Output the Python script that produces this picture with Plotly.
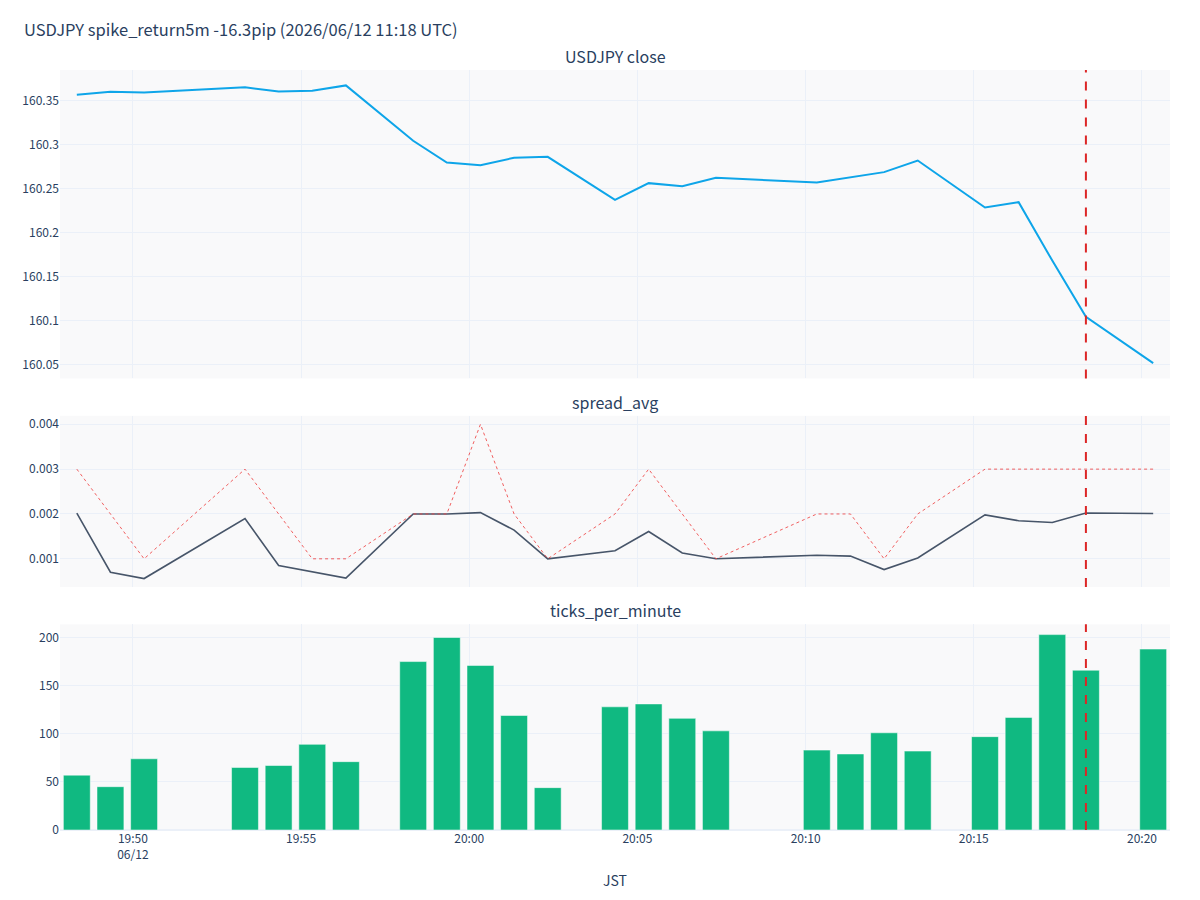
import plotly.graph_objects as go
from plotly.subplots import make_subplots

times = [
    "2026-06-12 19:48:20", "2026-06-12 19:49:20", "2026-06-12 19:50:20",
    "2026-06-12 19:53:20", "2026-06-12 19:54:20", "2026-06-12 19:55:20",
    "2026-06-12 19:56:20", "2026-06-12 19:58:20", "2026-06-12 19:59:20",
    "2026-06-12 20:00:20", "2026-06-12 20:01:20", "2026-06-12 20:02:20",
    "2026-06-12 20:04:20", "2026-06-12 20:05:20", "2026-06-12 20:06:20",
    "2026-06-12 20:07:20", "2026-06-12 20:10:20", "2026-06-12 20:11:20",
    "2026-06-12 20:12:20", "2026-06-12 20:13:20", "2026-06-12 20:15:20",
    "2026-06-12 20:16:20", "2026-06-12 20:17:20", "2026-06-12 20:18:20",
    "2026-06-12 20:20:20",
]

close = [
    160.3564, 160.3598, 160.3591, 160.3648, 160.3602, 160.3610, 160.3670,
    160.3042, 160.2795, 160.2765, 160.2849, 160.2860, 160.2371, 160.2561,
    160.2527, 160.2621, 160.2568, 160.2626, 160.2686, 160.2818, 160.2284,
    160.2345, 160.1682, 160.1045, 160.0519,
]

spread_avg = [
    0.00202, 0.00070, 0.00056, 0.00190, 0.00085, 0.00071, 0.00057,
    0.00200, 0.00200, 0.00203, 0.00164, 0.00100, 0.00118, 0.00161,
    0.00113, 0.00100, 0.00108, 0.00106, 0.00076, 0.00102, 0.00198,
    0.00185, 0.00181, 0.00202, 0.00201,
]

spread_max = [
    0.003, 0.002, 0.001, 0.003, 0.002, 0.001, 0.001,
    0.002, 0.002, 0.004, 0.002, 0.001, 0.002, 0.003,
    0.002, 0.001, 0.002, 0.002, 0.001, 0.002, 0.003,
    0.003, 0.003, 0.003, 0.003,
]

ticks_per_minute = [
    57, 45, 74, 65, 67, 89, 71, 175, 200, 171, 119, 44, 128, 131,
    116, 103, 83, 79, 101, 82, 97, 117, 203, 166, 188,
]

x_tickvals = [
    "2026-06-12 19:50", "2026-06-12 19:55", "2026-06-12 20:00",
    "2026-06-12 20:05", "2026-06-12 20:10", "2026-06-12 20:15",
    "2026-06-12 20:20",
]
x_ticktext = ["19:50<br>06/12", "19:55", "20:00", "20:05", "20:10", "20:15", "20:20"]

spike_time = "2026-06-12 20:18:20"
title_text = "USDJPY spike_return5m -16.3pip (2026/06/12 11:18 UTC)"
subplot_titles = ["USDJPY close", "spread_avg", "ticks_per_minute"]

FONT = "Noto Sans CJK JP"

fig = make_subplots(
    rows=3, cols=1, shared_xaxes=True,
    row_heights=[0.45, 0.25, 0.30],
    vertical_spacing=0.049,
    subplot_titles=subplot_titles,
)

fig.add_trace(go.Scatter(x=times, y=close, mode="lines", name="close",
                         line=dict(color="#0ea5e9", width=2)), row=1, col=1)
fig.add_trace(go.Scatter(x=times, y=spread_avg, mode="lines", name="spread_avg",
                         line=dict(color="#475569", width=1.6)), row=2, col=1)
fig.add_trace(go.Scatter(x=times, y=spread_max, mode="lines", name="spread_max",
                         line=dict(color="rgba(239,68,68,0.85)", width=1, dash="dot")),
              row=2, col=1)
fig.add_trace(go.Bar(x=times, y=ticks_per_minute, name="ticks_per_minute",
                     marker=dict(color="#10b981", line=dict(color="rgba(255,255,255,0.5)", width=1))),
              row=3, col=1)

for r in (1, 2, 3):
    fig.add_vline(x=spike_time, line=dict(color="#dc2626", width=2, dash="dash"),
                  row=r, col=1)

fig.update_layout(
    template="plotly_white",
    width=1200, height=900,
    margin=dict(l=60, r=30, t=70, b=70),
    showlegend=False,
    plot_bgcolor="#f9f9fa",
    font=dict(family=FONT, color="#2a3f5f"),
    title=dict(text=title_text, x=0.02, xanchor="left", y=1 - 30 / 900,
               yanchor="middle", font=dict(size=16.5)),
    bargap=0.2,
)
fig.update_annotations(font=dict(family=FONT, size=16))
fig.update_xaxes(showgrid=True, tickmode="array", tickvals=x_tickvals, ticktext=x_ticktext)
fig.update_xaxes(title_text="JST", row=3, col=1)

fig.write_html("out.html")
